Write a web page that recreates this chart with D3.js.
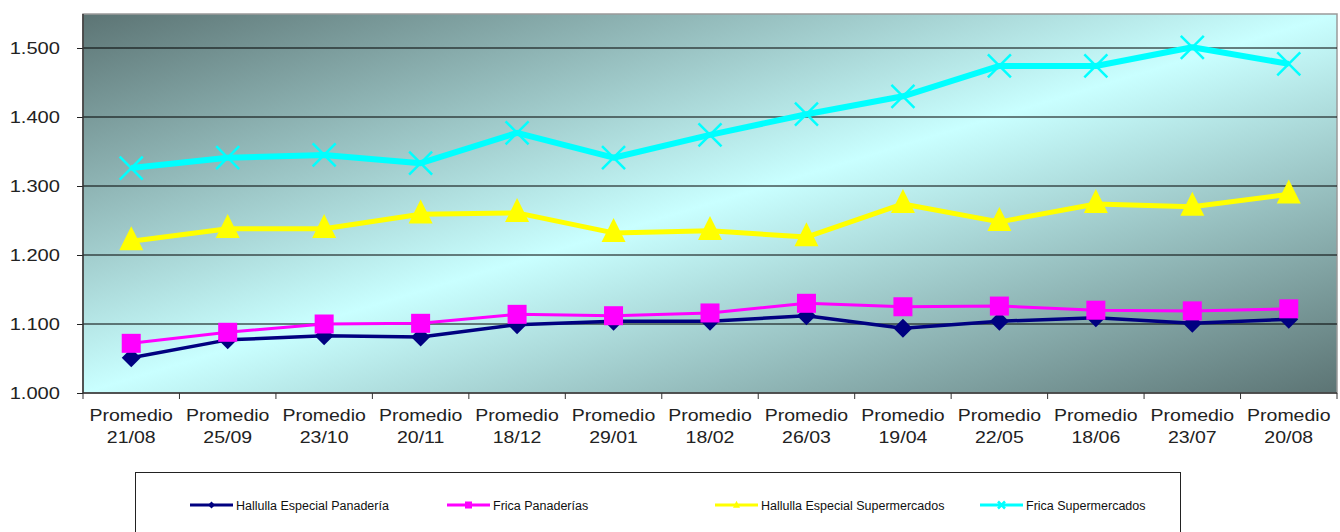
<!DOCTYPE html>
<html>
<head>
<meta charset="utf-8">
<script src="https://cdn.jsdelivr.net/npm/d3@7"></script>
<style>
  body { margin: 0; background: #fff; }
  svg { display: block; font-family: 'Liberation Sans', Arial, sans-serif; }
</style>
</head>
<body>
<div id="chart"></div>
<script>
const dates = ['21/08', '25/09', '23/10', '20/11', '18/12', '29/01', '18/02', '26/03', '19/04', '22/05', '18/06', '23/07', '20/08']
const yTicks = [1000, 1100, 1200, 1300, 1400, 1500]

const halPan = [1051, 1077, 1083, 1081, 1099, 1104, 1104, 1112, 1094, 1104, 1109, 1101, 1107]
const fricaPan = [1072, 1088, 1100, 1101, 1114, 1112, 1116, 1130, 1125, 1126, 1120, 1119, 1122]
const halSuper = [1220, 1238, 1238, 1259, 1261, 1232, 1235, 1226, 1274, 1248, 1274, 1270, 1288]
const fricaSuper = [1326, 1341, 1345, 1333, 1377, 1341, 1374, 1404, 1430, 1474, 1474, 1501, 1477]

const seriesNames = ['Hallulla Especial Panadería', 'Frica Panaderías', 'Hallulla Especial Supermercados', 'Frica Supermercados']

const series = [
  { name: seriesNames[0], values: halPan, color: '#000080', width: 3.5, marker: 'diamond' },
  { name: seriesNames[1], values: fricaPan, color: '#ff00ff', width: 3, marker: 'square' },
  { name: seriesNames[2], values: halSuper, color: '#ffff00', width: 5, marker: 'triangle' },
  { name: seriesNames[3], values: fricaSuper, color: '#00ffff', width: 6, marker: 'cross' }
]

const W = 1340
const H = 532
const margin = { top: 14, left: 83, right: 3, bottom: 139 }
const width = W - margin.left - margin.right
const height = H - margin.top - margin.bottom
// the axis text in the original is stretched sideways
const stretch = 1.22

const svg = d3
  .select('#chart')
  .append('svg')
  .attr('width', W)
  .attr('height', H)

const defs = svg.append('defs')
const grad = defs
  .append('linearGradient')
  .attr('id', 'bg')
  .attr('x1', 0)
  .attr('y1', 0)
  .attr('x2', 1)
  .attr('y2', 1)
grad.append('stop').attr('offset', 0).attr('stop-color', '#5c7474')
grad.append('stop').attr('offset', 0.5).attr('stop-color', '#c9ffff')
grad.append('stop').attr('offset', 1).attr('stop-color', '#5c7474')

const g = svg
  .append('g')
  .attr('transform', 'translate(' + margin.left + ',' + margin.top + ')')

const xScale = d3
  .scaleBand()
  .domain(dates)
  .range([0, width])

const yScale = d3
  .scaleLinear()
  .domain([1000, 1500])
  .range([height, 34])

g.append('rect')
  .attr('width', width)
  .attr('height', height)
  .attr('fill', 'url(#bg)')
  .attr('stroke', '#9a9a9a')
  .attr('stroke-width', 1.5)

// gridlines
g.selectAll('.grid')
  .data(yTicks.slice(1))
  .enter()
  .append('line')
  .attr('x1', 0)
  .attr('x2', width)
  .attr('y1', d => yScale(d))
  .attr('y2', d => yScale(d))
  .attr('stroke', '#000')
  .attr('stroke-width', 1)

// y axis: ticks from d3, labels drawn separately so they can be stretched
const yAxis = d3
  .axisLeft(yScale)
  .tickValues(yTicks)
  .tickSize(6)
  .tickFormat('')
g.append('g')
  .call(yAxis)
  .call(s => s.select('.domain').remove())
  .call(s => s.selectAll('line').attr('stroke', '#222'))

g.selectAll('.ylabel')
  .data(yTicks)
  .enter()
  .append('text')
  .attr('class', 'ylabel')
  .attr('transform', d => 'translate(-23,' + yScale(d) + ') scale(' + stretch + ',1)')
  .attr('dy', 6)
  .attr('text-anchor', 'end')
  .attr('font-size', 16.5)
  .attr('fill', '#222')
  .text(d => d3.format('.3f')(d / 1000))

g.append('line')
  .attr('x1', 0)
  .attr('x2', 0)
  .attr('y1', 0)
  .attr('y2', height)
  .attr('stroke', '#333')
  .attr('stroke-width', 1.5)

g.append('line')
  .attr('x1', 0)
  .attr('x2', width)
  .attr('y1', height)
  .attr('y2', height)
  .attr('stroke', '#333')
  .attr('stroke-width', 1.5)

// x ticks between categories
g.selectAll('.xtick')
  .data(d3.range(dates.length + 1))
  .enter()
  .append('line')
  .attr('x1', i => i * xScale.step())
  .attr('x2', i => i * xScale.step())
  .attr('y1', height)
  .attr('y2', height + 6)
  .attr('stroke', '#333')

const xLabels = g
  .selectAll('.xlabel')
  .data(dates)
  .enter()
  .append('text')
  .attr('text-anchor', 'middle')
  .attr('font-size', 16)
  .attr('fill', '#222')
  .attr('transform', d => 'translate(' + (xScale(d) + xScale.bandwidth() / 2) + ',' + (height + 28) + ') scale(' + stretch + ',1)')
xLabels.append('tspan').attr('x', 0).text('Promedio')
xLabels.append('tspan').attr('x', 0).attr('dy', 22).text(d => d)

const line = d3
  .line()
  .x((d, i) => xScale(dates[i]) + xScale.bandwidth() / 2)
  .y(d => yScale(d))

function drawMarker(sel, type, color, size) {
  if (type === 'diamond') {
    sel.append('path')
      .attr('d', d3.symbol(d3.symbolSquare, size * size / 2)())
      .attr('transform', 'rotate(45)')
      .attr('fill', color)
  } else if (type === 'square') {
    sel.append('rect')
      .attr('x', -size / 2)
      .attr('y', -size / 2)
      .attr('width', size)
      .attr('height', size)
      .attr('fill', color)
  } else if (type === 'triangle') {
    sel.append('path')
      .attr('d', 'M0,' + (-size * 0.62) + 'L' + (size / 2) + ',' + (size * 0.38) + 'L' + (-size / 2) + ',' + (size * 0.38) + 'Z')
      .attr('fill', color)
  } else if (type === 'cross') {
    const h = size / 2
    sel.append('path')
      .attr('d', 'M' + -h + ',' + -h + 'L' + h + ',' + h + 'M' + h + ',' + -h + 'L' + -h + ',' + h)
      .attr('stroke', color)
      .attr('stroke-width', 2.5)
  }
}

const markerSize = { diamond: 19, square: 19, triangle: 24, cross: 23 }

series.forEach(s => {
  g.append('path')
    .datum(s.values)
    .attr('d', line)
    .attr('fill', 'none')
    .attr('stroke', s.color)
    .attr('stroke-width', s.width)
    .attr('stroke-linejoin', 'round')

  g.selectAll('.m-' + s.marker)
    .data(s.values)
    .enter()
    .append('g')
    .attr('class', 'm-' + s.marker)
    .attr('transform', (d, i) => 'translate(' + (xScale(dates[i]) + xScale.bandwidth() / 2) + ',' + yScale(d) + ')')
    .each(function() {
      drawMarker(d3.select(this), s.marker, s.color, markerSize[s.marker])
    })
})

// legend
const legend = svg.append('g')
legend.append('rect')
  .attr('x', 135.5)
  .attr('y', 472.5)
  .attr('width', 1045)
  .attr('height', 70)
  .attr('fill', '#fff')
  .attr('stroke', '#222')
  .attr('stroke-width', 1)

const legendX = [190, 447, 715, 980]
series.forEach((s, i) => {
  const item = legend.append('g').attr('transform', 'translate(' + legendX[i] + ',505)')
  item.append('line')
    .attr('x1', 0)
    .attr('x2', 43)
    .attr('stroke', s.color)
    .attr('stroke-width', 3)
  const m = item.append('g').attr('transform', 'translate(21.5,0)')
  drawMarker(m, s.marker, s.color, 7)
  item.append('text')
    .attr('x', 46)
    .attr('y', 4.5)
    .attr('font-size', 12.5)
    .attr('fill', '#111')
    .text(s.name)
})
</script>
</body>
</html>
